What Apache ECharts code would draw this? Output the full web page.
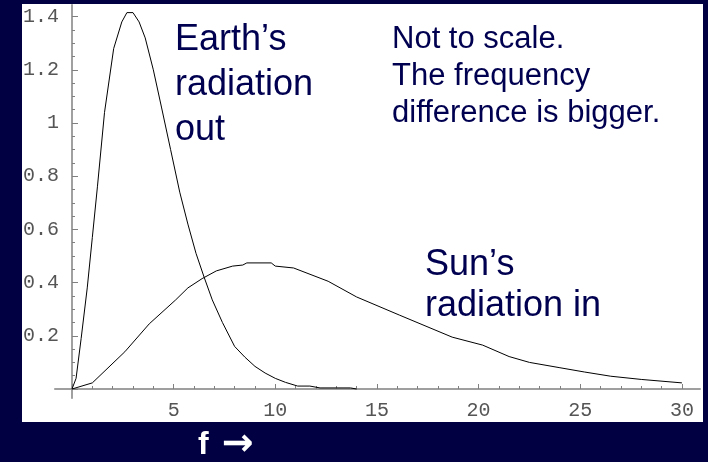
<!DOCTYPE html>
<html>
<head>
<meta charset="utf-8">
<script src="https://cdn.jsdelivr.net/npm/echarts@6/dist/echarts.min.js"></script>
<style>
  html, body { margin: 0; padding: 0; background: #000042; }
  #chart { width: 708px; height: 462px; }
</style>
</head>
<body>
<div id="chart"></div>
<script>
  // Earth's radiation out (frequency, intensity)
  var earthF = [0, 0.2, 0.45, 0.75, 1.0, 1.25, 1.6, 2.05, 2.45, 2.7, 3.0, 3.3, 3.6, 4.0, 4.4, 4.85, 5.3, 5.7, 6.1, 6.5, 6.9, 7.4, 8.0, 8.5, 9.0, 9.5, 10.0, 10.5, 11.1, 11.7, 12.2, 13.0, 13.7, 14.0]
  var earthV = [0, 0.04, 0.19, 0.38, 0.57, 0.76, 1.04, 1.28, 1.38, 1.415, 1.415, 1.38, 1.32, 1.20, 1.06, 0.90, 0.74, 0.62, 0.51, 0.42, 0.335, 0.25, 0.16, 0.12, 0.085, 0.06, 0.04, 0.025, 0.011, 0.011, 0.004, 0.004, 0.004, 0]
  // Sun's radiation in
  var sunF = [0, 1.0, 2.6, 3.8, 5.1, 5.7, 6.4, 7.1, 7.9, 8.4, 8.6, 9.8, 10.0, 10.9, 12.6, 14.0, 16.1, 18.7, 20.2, 21.5, 22.5, 24.0, 25.2, 26.5, 28.0, 30.0]
  var sunV = [0, 0.023, 0.14, 0.245, 0.335, 0.38, 0.415, 0.444, 0.462, 0.466, 0.474, 0.474, 0.462, 0.455, 0.405, 0.346, 0.278, 0.195, 0.165, 0.122, 0.10, 0.08, 0.064, 0.048, 0.036, 0.023]

  var xMin = 0, xMax = 30, xStep = 5
  var yMin = 0, yMax = 1.4, yStep = 0.2

  // pixel layout
  var x0 = 72, xs = 20.33   // px of f=0, px per unit
  var y0 = 389, ys = 266    // px of value 0, px per unit
  var lineXMin = -0.85, lineXMax = 30.9
  var lineYMin = -0.035, lineYMax = 1.445

  function pairs (xs_, ys_) {
    return xs_.map(function (f, i) { return [f, ys_[i]] })
  }

  var gray = '#808080'
  var tickFont = { fontFamily: 'Liberation Mono', fontSize: 20, color: '#555' }

  var chart = echarts.init(document.getElementById('chart'))
  var option = {
    animation: false,
    backgroundColor: '#000042',
    grid: [
      { // axis lines only
        left: x0 + lineXMin * xs,
        width: (lineXMax - lineXMin) * xs,
        top: y0 - lineYMax * ys,
        height: (lineYMax - lineYMin) * ys
      },
      { // data, ticks, labels
        left: x0,
        width: (xMax - xMin) * xs,
        top: y0 - yMax * ys,
        height: (yMax - yMin) * ys
      }
    ],
    xAxis: [
      {
        gridIndex: 0, type: 'value', min: lineXMin, max: lineXMax,
        axisLine: { show: true, onZero: true, lineStyle: { color: gray, width: 1.5 } },
        axisTick: { show: false }, axisLabel: { show: false }, splitLine: { show: false }
      },
      {
        gridIndex: 1, type: 'value', min: xMin, max: xMax, interval: xStep,
        axisLine: { show: false },
        axisTick: { show: true, inside: true, length: 5, lineStyle: { color: gray, width: 1 } },
        minorTick: { show: true, splitNumber: 5, length: 3, lineStyle: { color: gray, width: 1 } },
        axisLabel: Object.assign({ margin: 12, showMinLabel: false }, tickFont),
        splitLine: { show: false }
      }
    ],
    yAxis: [
      {
        gridIndex: 0, type: 'value', min: lineYMin, max: lineYMax,
        axisLine: { show: true, onZero: true, lineStyle: { color: gray, width: 1.5 } },
        axisTick: { show: false }, axisLabel: { show: false }, splitLine: { show: false }
      },
      {
        gridIndex: 1, type: 'value', min: yMin, max: yMax, interval: yStep,
        axisLine: { show: false },
        axisTick: { show: true, inside: true, length: 6, lineStyle: { color: gray, width: 1 } },
        minorTick: { show: true, splitNumber: 4, length: 3, lineStyle: { color: gray, width: 1 } },
        axisLabel: Object.assign({ margin: 13, showMinLabel: false }, tickFont),
        splitLine: { show: false }
      }
    ],
    series: [
      {
        name: 'Earth', type: 'line', xAxisIndex: 1, yAxisIndex: 1,
        data: pairs(earthF, earthV), showSymbol: false, clip: false,
        lineStyle: { color: '#000', width: 1 }
      },
      {
        name: 'Sun', type: 'line', xAxisIndex: 1, yAxisIndex: 1,
        data: pairs(sunF, sunV), showSymbol: false, clip: false,
        lineStyle: { color: '#000', width: 1 }
      }
    ],
    graphic: [
      { type: 'rect', z: -100, silent: true, shape: { x: 22, y: 4, width: 681, height: 418 }, style: { fill: '#fff' } },
      { type: 'text', left: 175, top: 18, style: { text: 'Earth\u2019s\nradiation\nout', font: '36px "Liberation Sans"', fill: '#000050', lineHeight: 45 } },
      { type: 'text', left: 392, top: 21, style: { text: 'Not to scale.\nThe frequency\ndifference is bigger.', font: '31px "Liberation Sans"', fill: '#000050', lineHeight: 37 } },
      { type: 'text', left: 425, top: 245, style: { text: 'Sun\u2019s\nradiation in', font: '36px "Liberation Sans"', fill: '#000050', lineHeight: 41 } },
      {
        type: 'text', left: 198, top: 426,
        style: {
          text: '{f|f}{a|\u2192}',
          fill: '#fff',
          rich: {
            f: { font: 'bold 32px "Liberation Sans"', fill: '#fff' },
            a: { font: 'bold 38px "DejaVu Sans"', fill: '#fff', padding: [0, 0, 0, 13] }
          }
        }
      }
    ]
  }
  chart.setOption(option)
</script>
</body>
</html>
